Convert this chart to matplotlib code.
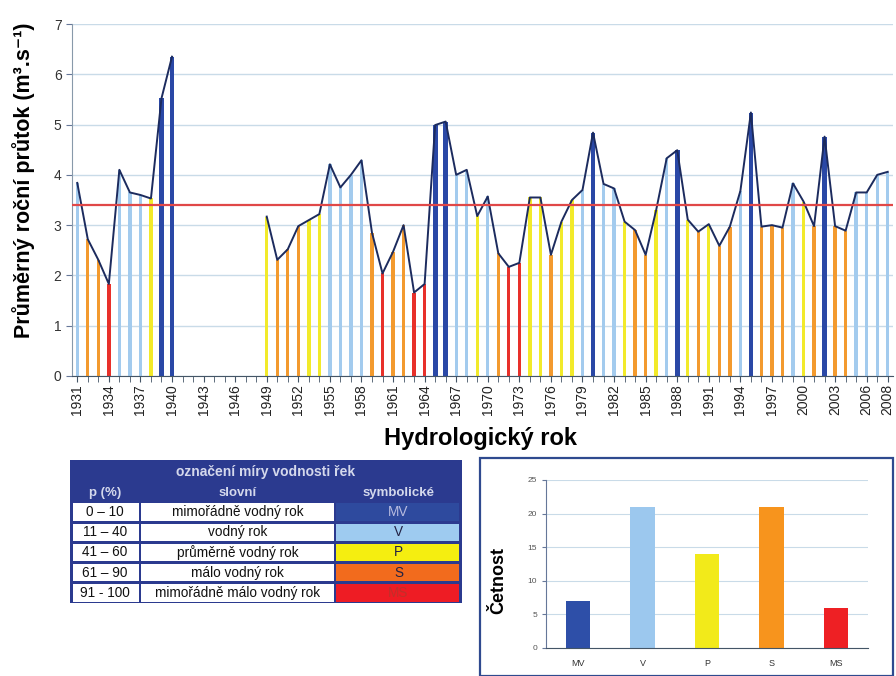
import numpy as np
import matplotlib
matplotlib.use("Agg")
import matplotlib.pyplot as plt
from matplotlib.patches import Rectangle

plt.rcParams['font.family'] = ['Liberation Sans', 'DejaVu Sans']

# ---------------- data ----------------
years = list(range(1931, 2009))
# annual mean discharge (m3/s); None = no data
flow_1931_1940 = [3.84, 2.72, 2.31, 1.83, 4.10, 3.65, 3.60, 3.53, 5.52, 6.35]
flow_gap = [None] * 8  # 1941-1948
flow_1949_2008 = [3.17, 2.31, 2.52, 2.98, 3.10, 3.22, 4.21, 3.75, 4.00, 4.29,
                  2.85, 2.04, 2.47, 3.00, 1.66, 1.83, 4.99, 5.06, 4.00, 4.10,
                  3.18, 3.57, 2.44, 2.17, 2.25, 3.55, 3.55, 2.41, 3.07, 3.50,
                  3.70, 4.84, 3.82, 3.73, 3.07, 2.90, 2.41, 3.30, 4.33, 4.49,
                  3.11, 2.87, 3.02, 2.59, 2.97, 3.68, 5.24, 2.97, 3.00, 2.95,
                  3.83, 3.47, 2.98, 4.76, 2.98, 2.89, 3.65, 3.65, 4.00, 4.06]
flows = flow_1931_1940 + flow_gap + flow_1949_2008

class_1931_1940 = ['V', 'S', 'S', 'MS', 'V', 'V', 'V', 'P', 'MV', 'MV']
class_gap = [None] * 8
class_1949_2008 = ['P', 'S', 'S', 'S', 'P', 'P', 'V', 'V', 'V', 'V',
                   'S', 'MS', 'S', 'S', 'MS', 'MS', 'MV', 'MV', 'V', 'V',
                   'P', 'V', 'S', 'MS', 'MS', 'P', 'P', 'S', 'P', 'P',
                   'V', 'MV', 'V', 'V', 'P', 'S', 'S', 'P', 'V', 'MV',
                   'P', 'S', 'P', 'S', 'S', 'V', 'MV', 'S', 'S', 'S',
                   'V', 'P', 'S', 'MV', 'S', 'S', 'V', 'V', 'V', 'V']
classes = class_1931_1940 + class_gap + class_1949_2008

mean_flow = 3.41

tick_years = list(range(1931, 2007, 3)) + [2008]

# classification table
tbl_title = "označení míry vodnosti řek"
tbl_headers = ["p (%)", "slovní", "symbolické"]
tbl_p = ["0 – 10", "11 – 40", "41 – 60", "61 – 90", "91 - 100"]
tbl_words = ["mimořádně vodný rok", "vodný rok", "průměrně vodný rok",
             "málo vodný rok", "mimořádně málo vodný rok"]
tbl_symbols = ["MV", "V", "P", "S", "MS"]

# frequency histogram
hist_cats = ["MV", "V", "P", "S", "MS"]
hist_counts = [7, 21, 14, 21, 6]

# ---------------- styles ----------------
bar_colors = {'MV': '#2a48a6', 'V': '#a3cbee', 'P': '#f2ea2a',
              'S': '#f39a2e', 'MS': '#e8302a'}
tbl_colors = {'MV': '#2e4a9e', 'V': '#9ecbf0', 'P': '#f5ee10',
              'S': '#f26b1d', 'MS': '#ee1c24'}
hist_colors = ['#2e4fa8', '#9cc8ee', '#f2ea1a', '#f7941d', '#ee2024']

W, H = 896, 676
fig = plt.figure(figsize=(W / 100, H / 100), dpi=100)
fig.patch.set_facecolor('white')


def fax(l, t, r, b):
    return [l / W, 1 - b / H, (r - l) / W, (b - t) / H]


# ---------------- main chart ----------------
ax = fig.add_axes(fax(72, 24, 893, 376))
for y, v, c in zip(years, flows, classes):
    if v is None:
        continue
    w = 0.45 if c == 'MV' else 0.32
    ax.bar(y, v, width=w, color=bar_colors[c], zorder=2)

line_vals = [np.nan if v is None else v for v in flows]
ax.plot(years, line_vals, color='#1c2b5e', lw=1.4, zorder=3)
ax.axhline(mean_flow, color='#e04848', lw=1.6, zorder=4)

ax.set_xlim(1930.5, 2008.5)
ax.set_ylim(0, 7)
ax.set_yticks(range(0, 8))
ax.set_xticks(tick_years)
ax.set_xticks(years, minor=True)
ax.set_xticklabels([str(t) for t in tick_years], rotation=90, fontsize=10,
                   color='#222222')
ax.tick_params(axis='y', labelsize=10, labelcolor='#333333', length=4,
               color='#667799')
ax.tick_params(axis='x', which='both', direction='out', length=4,
               color='#445566', pad=2)
ax.grid(axis='y', color='#c9dbe8', lw=1.0, zorder=0)
ax.set_axisbelow(True)
for s in ['top', 'right']:
    ax.spines[s].set_visible(False)
ax.spines['left'].set_color('#8899aa')
ax.spines['bottom'].set_color('#445566')
ax.set_ylabel("Průměrný roční průtok (m³.s⁻¹)", fontsize=15.5, fontweight='bold')
ax.yaxis.set_label_coords(-0.045, 0.557)
ax.set_xlabel("Hydrologický rok", fontsize=17, fontweight='bold')
ax.xaxis.set_label_coords(0.497, -0.145)

# ---------------- table ----------------
tax = fig.add_axes(fax(70, 460, 462, 603))
tax.set_xlim(0, 392)
tax.set_ylim(143, 0)
tax.axis('off')
hdr_bg = '#2b3a8f'
hdr_fg = '#d4d8ec'
col_x = [0, 70, 265, 392]
tax.add_patch(Rectangle((0, 0), 392, 42, facecolor=hdr_bg, edgecolor='none'))
tax.text(196, 12, tbl_title, ha='center', va='center', fontsize=10,
         fontweight='bold', color=hdr_fg)
for i, h in enumerate(tbl_headers):
    tax.text((col_x[i] + col_x[i + 1]) / 2, 33, h, ha='center', va='center',
             fontsize=9.5, fontweight='bold', color=hdr_fg)
row_h = 20.2
for r in range(5):
    y0 = 42 + r * row_h
    tax.add_patch(Rectangle((0, y0), 392, row_h, facecolor=hdr_bg,
                            edgecolor='none'))
    tax.add_patch(Rectangle((3, y0 + 1.5), col_x[1] - 4, row_h - 3,
                            facecolor='white', edgecolor='none'))
    tax.add_patch(Rectangle((col_x[1] + 1, y0 + 1.5), col_x[2] - col_x[1] - 2,
                            row_h - 3, facecolor='white', edgecolor='none'))
    sym = tbl_symbols[r]
    tax.add_patch(Rectangle((col_x[2] + 1, y0 + 1.5), col_x[3] - col_x[2] - 4,
                            row_h - 3, facecolor=tbl_colors[sym],
                            edgecolor='none'))
    yc = y0 + row_h / 2
    tax.text((col_x[0] + col_x[1]) / 2, yc, tbl_p[r], ha='center',
             va='center', fontsize=9.8, color='#111111')
    tax.text((col_x[1] + col_x[2]) / 2, yc, tbl_words[r], ha='center',
             va='center', fontsize=9.8, color='#111111')
    tax.text((col_x[2] + col_x[3]) / 2, yc, sym, ha='center', va='center',
             fontsize=9.8,
             color='#b8bce0' if sym == 'MV' else ('#c0302a' if sym == 'MS' else '#222244'))

# ---------------- histogram ----------------
fig.patches.append(Rectangle((480 / W, 0 / H), (893 - 480) / W, (676 - 458) / H,
                             transform=fig.transFigure, facecolor='none',
                             edgecolor='#2f4a8f', lw=1.6, zorder=0))
hax = fig.add_axes(fax(546, 480, 868, 648))
hax.bar(range(len(hist_cats)), hist_counts, width=0.38, color=hist_colors,
        zorder=2)
hax.set_xlim(-0.5, len(hist_cats) - 0.5)
hax.set_ylim(0, 25)
hax.set_yticks(range(0, 26, 5))
hax.set_xticks(range(len(hist_cats)))
hax.set_xticklabels(hist_cats, fontsize=6.5, color='#333333')
hax.tick_params(axis='y', labelsize=6, labelcolor='#555555', length=3,
                color='#667799')
hax.tick_params(axis='x', length=0, pad=8)
hax.grid(axis='y', color='#c9dbe8', lw=0.8, zorder=0)
hax.set_axisbelow(True)
for s in ['top', 'right']:
    hax.spines[s].set_visible(False)
hax.spines['left'].set_color('#667799')
hax.spines['bottom'].set_color('#445566')
hax.set_ylabel("Četnost", fontsize=13, fontweight='bold')
hax.yaxis.set_label_coords(-0.12, 0.4)

fig.savefig("out.png", dpi=100, facecolor='white')
